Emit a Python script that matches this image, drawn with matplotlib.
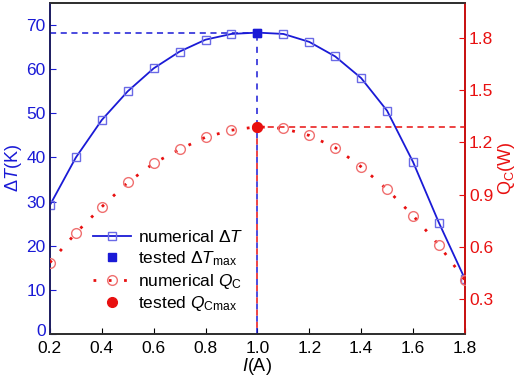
import numpy as np
import matplotlib
matplotlib.use('Agg')
import matplotlib.pyplot as plt
import matplotlib.transforms as mtransforms
from matplotlib.lines import Line2D

plt.rcParams['font.family'] = 'Liberation Sans'
plt.rcParams['mathtext.fontset'] = 'custom'
plt.rcParams['mathtext.rm'] = 'Liberation Sans'
plt.rcParams['mathtext.it'] = 'Liberation Sans:italic'

# data
current = [0.2, 0.3, 0.4, 0.5, 0.6, 0.7, 0.8, 0.9, 1.0, 1.1, 1.2, 1.3, 1.4, 1.5, 1.6, 1.7, 1.8]
dT_num = [29.2, 40.0, 48.5, 55.0, 60.2, 64.0, 66.7, 68.0, 68.3, 68.0, 66.2, 62.9, 58.0, 50.6, 39.0, 25.2, 12.5]
qc_num = [0.51, 0.68, 0.83, 0.97, 1.08, 1.16, 1.23, 1.27, 1.29, 1.28, 1.24, 1.17, 1.06, 0.93, 0.78, 0.61, 0.41]
I_test = 1.0
dT_max = 68.2
qc_max = 1.29

blue = '#1a1ad6'
blue_mk = '#6a6ae6'
red = '#e81010'
red_mk = '#f07070'

fig = plt.figure(figsize=(5.2, 3.8), dpi=100)
ax = fig.add_axes([0.096, 0.121, 0.798, 0.871])
ax2 = ax.twinx()

# numerical dT: line plus hollow squares
ax.plot(current, dT_num, '-', color=blue, lw=1.3, zorder=3)
ax.plot(current, dT_num, 's', mfc='none', mec=blue_mk, ms=5.5, mew=1.0, zorder=4)
ax.plot([I_test], [dT_max], 's', color=blue, ms=5.5, zorder=5)

# guide lines for the tested maximum
ax.plot([0.2, I_test], [dT_max, dT_max], color=blue, lw=1.1, dashes=(4, 3))
ax.plot([I_test, I_test], [0, dT_max], color=blue, lw=1.1, ls=(0, (4, 4)))

ax2.plot(current, qc_num, color=red, lw=2.0, dashes=(1, 4.5), zorder=3)
ax2.plot(current, qc_num, 'o', mfc='none', mec=red_mk, ms=7, mew=1.0, zorder=4)
ax2.plot([I_test], [qc_max], 'o', color=red, ms=7, zorder=5)
ax2.plot([I_test, 1.8], [qc_max, qc_max], color=red, lw=1.1, dashes=(4, 3))
# red vertical guide, dashes offset so the blue one shows in the gaps
ax2.plot([I_test, I_test], [0.1, qc_max], color=red, lw=1.1, ls=(4, (4, 4)))

ax.set_xlim(0.2, 1.8)
ax.set_ylim(0, 75)
ax2.set_ylim(0.1, 2.0)
ax.set_xticks(np.arange(0.2, 1.81, 0.2))
ax.set_yticks(range(0, 71, 10))
ax2.set_yticks([0.3, 0.6, 0.9, 1.2, 1.5, 1.8])

ax.tick_params(axis='x', direction='in', labelsize=12.5, length=4, top=False, pad=5)
ax.tick_params(axis='y', direction='in', labelsize=12.5, length=4, colors=blue, pad=3)
ax2.tick_params(axis='y', direction='in', labelsize=12.5, length=4, colors=red, pad=3)

# nudge the "0" label up a little so it clears "0.2"
lbl0 = ax.get_yticklabels()[0]
lbl0.set_transform(lbl0.get_transform() + mtransforms.ScaledTranslation(0, 3 / 72, fig.dpi_scale_trans))

ax2.spines['left'].set_color('#202070')
ax2.spines['right'].set_color(red)
ax2.spines['top'].set_color('#333333')
ax2.spines['bottom'].set_color('#333333')
for sp in ['left', 'right', 'top', 'bottom']:
    ax.spines[sp].set_linewidth(1.2)
    ax2.spines[sp].set_linewidth(1.2)

ax.set_xlabel(r'$I$(A)', fontsize=13, labelpad=0)
ax.set_ylabel(r'$\Delta T$(K)', fontsize=13, color=blue, labelpad=2)
ax2.set_ylabel(r'Q$_{\rm C}$(W)', fontsize=13, color=red, rotation=90, labelpad=2)

# legend handles
handles = [
    Line2D([], [], color=blue, lw=1.3, marker='s', mfc='none', mec=blue_mk, ms=5.5),
    Line2D([], [], ls='none', marker='s', color=blue, ms=5.5),
    Line2D([], [], color=red, lw=2.0, dashes=(1, 4.5), marker='o', mfc='none', mec=red_mk, ms=7),
    Line2D([], [], ls='none', marker='o', color=red, ms=7),
]
labels = [r'numerical $\Delta T$', r'tested $\Delta T_{\rm max}$',
          r'numerical $Q_{\rm C}$', r'tested $Q_{\rm Cmax}$']
ax2.legend(handles, labels, loc='lower left', bbox_to_anchor=(0.065, 0.015), frameon=False,
           fontsize=12.5, handlelength=2.2, labelspacing=0.22, handletextpad=0.4)

fig.savefig('out.png', dpi=100)
